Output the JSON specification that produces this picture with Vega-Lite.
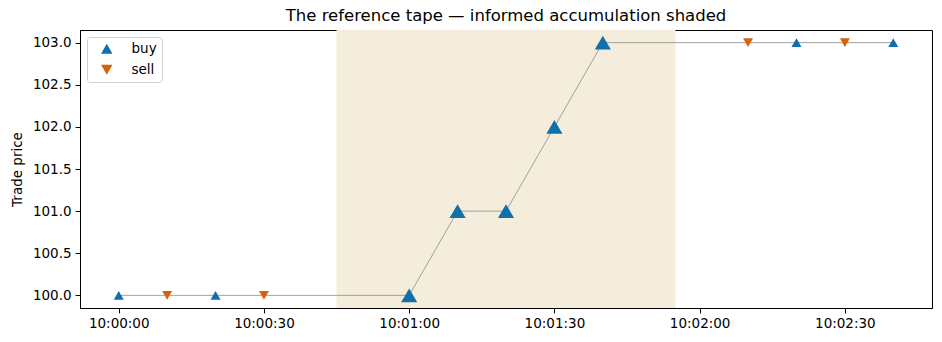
{
  "$schema": "https://vega.github.io/schema/vega-lite/v6.json",
  "autosize": {"type": "none"},
  "padding": {"left": 80, "top": 30, "right": 10, "bottom": 34},
  "width": 852,
  "height": 278,
  "title": {"text": "The reference tape — informed accumulation shaded", "font": "DejaVu Sans", "fontSize": 16.5, "fontWeight": "normal", "color": "black", "offset": 6},
  "config": {
    "view": {"stroke": "black", "strokeWidth": 1},
    "axis": {"labelFont": "DejaVu Sans", "labelFontSize": 13.5, "labelColor": "black", "titleFont": "DejaVu Sans", "titleFontSize": 13.5, "titleFontWeight": "normal", "titleColor": "black", "domainColor": "black", "tickColor": "black", "tickSize": 4.9, "grid": false, "labelPadding": 4},
    "legend": {"labelFont": "DejaVu Sans", "labelFontSize": 13.5, "labelColor": "black"}
  },
  "datasets": {
    "trades": [
      {"t": "2024-01-01T10:00:00", "price": 100, "side": "buy", "informed": "no"},
      {"t": "2024-01-01T10:00:10", "price": 100, "side": "sell", "informed": "no"},
      {"t": "2024-01-01T10:00:20", "price": 100, "side": "buy", "informed": "no"},
      {"t": "2024-01-01T10:00:30", "price": 100, "side": "sell", "informed": "no"},
      {"t": "2024-01-01T10:01:00", "price": 100, "side": "buy", "informed": "yes"},
      {"t": "2024-01-01T10:01:10", "price": 101, "side": "buy", "informed": "yes"},
      {"t": "2024-01-01T10:01:20", "price": 101, "side": "buy", "informed": "yes"},
      {"t": "2024-01-01T10:01:30", "price": 102, "side": "buy", "informed": "yes"},
      {"t": "2024-01-01T10:01:40", "price": 103, "side": "buy", "informed": "yes"},
      {"t": "2024-01-01T10:02:10", "price": 103, "side": "sell", "informed": "no"},
      {"t": "2024-01-01T10:02:20", "price": 103, "side": "buy", "informed": "no"},
      {"t": "2024-01-01T10:02:30", "price": 103, "side": "sell", "informed": "no"},
      {"t": "2024-01-01T10:02:40", "price": 103, "side": "buy", "informed": "no"}
    ],
    "shade": [
      {"start": "2024-01-01T10:00:45", "end": "2024-01-01T10:01:55"}
    ]
  },
  "layer": [
    {
      "data": {"name": "shade"},
      "mark": {"type": "rect", "color": "#f5eddc", "opacity": 1},
      "encoding": {
        "x": {"field": "start", "type": "temporal", "scale": {"domain": [{"year": 2024, "month": 1, "date": 1, "hours": 9, "minutes": 59, "seconds": 52}, {"year": 2024, "month": 1, "date": 1, "hours": 10, "minutes": 2, "seconds": 48}]}},
        "x2": {"field": "end"}
      }
    },
    {
      "data": {"name": "trades"},
      "mark": {"type": "line", "color": "#8c8c8c", "strokeWidth": 0.9, "opacity": 0.9},
      "encoding": {
        "x": {"field": "t", "type": "temporal"},
        "y": {"field": "price", "type": "quantitative"}
      }
    },
    {
      "data": {"name": "trades"},
      "mark": {"type": "point", "filled": true, "opacity": 1, "strokeWidth": 0},
      "encoding": {
        "x": {"field": "t", "type": "temporal", "title": null,
          "scale": {"domain": [{"year": 2024, "month": 1, "date": 1, "hours": 9, "minutes": 59, "seconds": 52}, {"year": 2024, "month": 1, "date": 1, "hours": 10, "minutes": 2, "seconds": 48}]},
          "axis": {"format": "%H:%M:%S", "values": [
            {"year": 2024, "month": 1, "date": 1, "hours": 10, "minutes": 0, "seconds": 0},
            {"year": 2024, "month": 1, "date": 1, "hours": 10, "minutes": 0, "seconds": 30},
            {"year": 2024, "month": 1, "date": 1, "hours": 10, "minutes": 1, "seconds": 0},
            {"year": 2024, "month": 1, "date": 1, "hours": 10, "minutes": 1, "seconds": 30},
            {"year": 2024, "month": 1, "date": 1, "hours": 10, "minutes": 2, "seconds": 0},
            {"year": 2024, "month": 1, "date": 1, "hours": 10, "minutes": 2, "seconds": 30}
          ]}},
        "y": {"field": "price", "type": "quantitative", "title": "Trade price",
          "scale": {"domain": [99.85, 103.15], "nice": false, "zero": false},
          "axis": {"values": [100, 100.5, 101, 101.5, 102, 102.5, 103], "format": ".1f", "titlePadding": 8}},
        "color": {"field": "side", "type": "nominal", "scale": {"domain": ["buy", "sell"], "range": ["#1170aa", "#d6620c"]},
          "legend": {"title": null, "orient": "top-left", "offset": 7, "fillColor": "white", "strokeColor": "#d0d0d0", "cornerRadius": 3, "padding": 5, "symbolSize": 130, "rowPadding": 6, "labelOffset": 18, "symbolOffset": 8}},
        "shape": {"field": "side", "type": "nominal", "scale": {"domain": ["buy", "sell"], "range": ["triangle-up", "triangle-down"]}, "legend": null},
        "size": {"field": "informed", "type": "nominal", "scale": {"domain": ["no", "yes"], "range": [100, 260]}, "legend": null}
      }
    }
  ]
}
